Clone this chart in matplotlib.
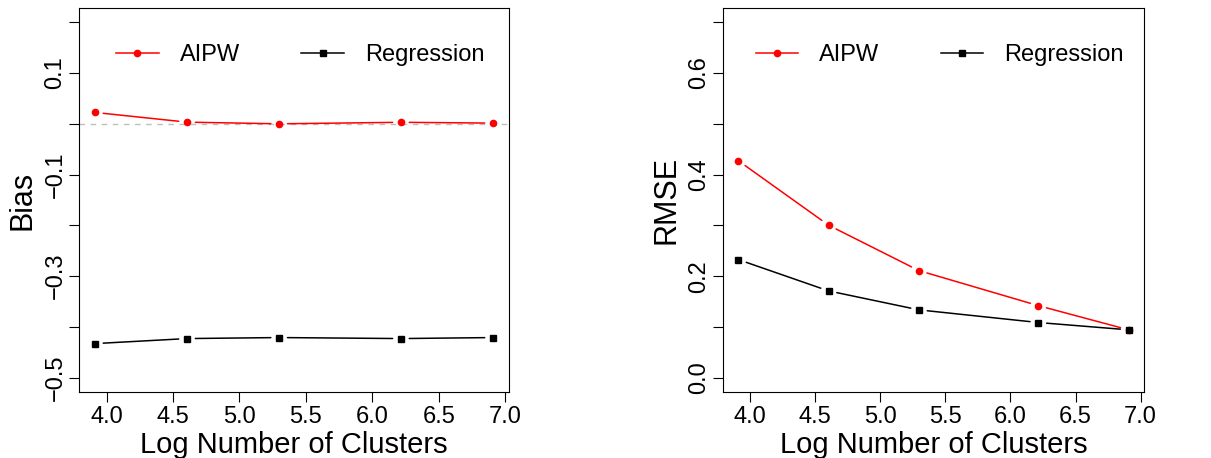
import numpy as np
import matplotlib.pyplot as plt

plt.rcParams['font.family'] = ['Liberation Sans', 'DejaVu Sans']

# log number of clusters: 50, 100, 200, 500, 1000
log_clusters = np.log([50, 100, 200, 500, 1000])

bias_aipw = [0.0224, 0.0033, 0.0000, 0.0030, 0.0014]
bias_reg = [-0.4327, -0.4228, -0.4208, -0.4228, -0.4208]

rmse_aipw = [0.4273, 0.3003, 0.2110, 0.1420, 0.0944]
rmse_reg = [0.2327, 0.1710, 0.1337, 0.1088, 0.0944]

x_ticks = [4.0, 4.5, 5.0, 5.5, 6.0, 6.5, 7.0]
bias_ticks = [0.2, 0.1, 0.0, -0.1, -0.2, -0.3, -0.4, -0.5]
bias_labels = ['', '0.1', '', '\u22120.1', '', '\u22120.3', '', '\u22120.5']
rmse_ticks = [0.0, 0.1, 0.2, 0.3, 0.4, 0.5, 0.6, 0.7]
rmse_labels = ['0.0', '', '0.2', '', '0.4', '', '0.6', '']

RED = '#ff0000'
BLACK = '#000000'


def gapped_line(ax, x, y, color, marker, ms, label):
    # type="b" style: segments stop short of each point
    for x0, y0, x1, y1 in zip(x[:-1], y[:-1], x[1:], y[1:]):
        ax.annotate('', xy=(x1, y1), xytext=(x0, y0),
                    arrowprops=dict(arrowstyle='-', color=color, lw=1.1,
                                    shrinkA=6, shrinkB=6))
    ax.plot(x, y, ls='none', marker=marker, ms=ms, color=color, mec=color)
    # proxy for the legend
    ax.plot([], [], ls='-', lw=1.1, marker=marker, ms=ms, color=color, label=label)


def style_axes(ax, yticks, ylabels, ylim, ylabel):
    xr = log_clusters.max() - log_clusters.min()
    ax.set_xlim(log_clusters.min() - 0.04 * xr, log_clusters.max() + 0.04 * xr)
    yr = ylim[1] - ylim[0]
    ax.set_ylim(ylim[0] - 0.04 * yr, ylim[1] + 0.04 * yr)
    ax.set_xticks(x_ticks)
    ax.set_xticklabels([f'{t:.1f}' for t in x_ticks])
    ax.set_yticks(yticks)
    ax.set_yticklabels(ylabels, rotation=90, va='center')
    ax.tick_params(axis='both', length=7, width=0.8, labelsize=17)
    ax.tick_params(axis='x', pad=3)
    ax.tick_params(axis='y', pad=2)
    for s in ax.spines.values():
        s.set_linewidth(0.8)
    ax.set_xlabel('Log Number of Clusters', fontsize=21, labelpad=2)
    ax.set_ylabel(ylabel, fontsize=22, labelpad=5)
    ax.legend(loc='center', bbox_to_anchor=(0.515, 0.877), ncol=2, frameon=False,
              fontsize=17, handlelength=1.8, handletextpad=0.9, columnspacing=2.6)


fig = plt.figure(figsize=(12.11, 4.58), dpi=100)
ax1 = fig.add_axes([0.0652, 0.1441, 0.3551, 0.8384])
ax2 = fig.add_axes([0.5968, 0.1441, 0.3481, 0.8384])

ax1.axhline(0, color='#bebebe', lw=1.0, ls=(0, (4, 4)), zorder=0)
gapped_line(ax1, log_clusters, bias_aipw, RED, 'o', 4.5, 'AIPW')
gapped_line(ax1, log_clusters, bias_reg, BLACK, 's', 5, 'Regression')
style_axes(ax1, bias_ticks, bias_labels, (-0.5, 0.2), 'Bias')

gapped_line(ax2, log_clusters, rmse_aipw, RED, 'o', 4.5, 'AIPW')
gapped_line(ax2, log_clusters, rmse_reg, BLACK, 's', 5, 'Regression')
style_axes(ax2, rmse_ticks, rmse_labels, (0.0, 0.7), 'RMSE')

fig.savefig('out.png', dpi=100)
